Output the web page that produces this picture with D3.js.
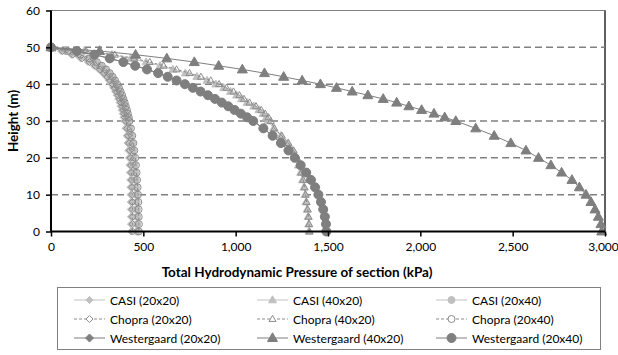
<!DOCTYPE html>
<meta charset="utf-8">
<style>
body { margin: 0; background: #fff; }
text { font-family: Lato, "Liberation Sans", sans-serif; fill: #000; }
.title { font-size: 13.5px; font-weight: bold; }
.leg { font-size: 12px; }
</style>
<svg width="618" height="355"></svg>
<script src="https://d3js.org/d3.v7.min.js"></script>
<script>

// heights (m): 1 m steps near the top, 2 m steps lower down
var heights = [50,49,48,47,46,45,44,43,42,41,40,39,38,37,36,35,34,33,32,31,30,
               28,26,24,22,20,18,16,14,12,10,8,6,4,2,0];

var casi20x20   = [0,55,110,160,200,232,258,280,298,313,326,337,347,356,364,371,377,383,388,393,397,
                   404,410,415,419,422,425,427,429,430,431,432,432,433,433,433];
var casi40x20   = [0,180,330,432,515,590,660,728,790,845,892,935,972,1005,1032,1062,1098,1126,1148,1166,1176,
                   1206,1245,1281,1309,1327,1340,1352,1362,1370,1376,1381,1387,1392,1395,1397];
var casi20x40   = [0,80,148,200,240,268,291,311,327,340,351,361,370,378,385,392,398,404,409,414,418,
                   426,433,439,444,448,452,455,458,460,462,464,465,466,467,467];
var chopra20x20 = [0,62,118,168,208,240,266,288,306,321,334,345,355,364,372,379,385,391,396,401,405,
                   412,418,423,427,431,434,436,438,439,440,441,441,442,442,442];
var chopra40x20 = [0,190,345,450,535,610,680,750,812,865,910,950,988,1020,1045,1075,1110,1138,1160,1178,1190,
                   1210,1250,1286,1314,1332,1345,1356,1366,1373,1379,1384,1390,1395,1398,1400];
var chopra20x40 = [0,90,160,210,248,275,298,318,334,347,358,368,377,385,392,399,405,411,416,421,425,
                   433,440,446,451,456,460,463,466,469,471,473,474,475,476,476];
var west20x20   = [0,140,235,318,392,456,520,580,632,680,725,768,810,850,888,925,960,994,1028,1062,1095,
                   1150,1200,1245,1286,1320,1352,1382,1408,1430,1448,1462,1474,1483,1489,1491];
var west40x20   = [0,263,458,627,776,908,1036,1156,1260,1360,1459,1546,1631,1716,1799,1872,1938,2007,2074,2132,2192,
                   2300,2400,2490,2572,2640,2707,2765,2821,2861,2897,2924,2946,2964,2978,2982];
var west20x40   = [0,140,235,318,392,456,520,580,632,680,725,768,810,850,888,925,960,994,1028,1062,1095,
                   1150,1200,1245,1286,1320,1352,1382,1408,1430,1448,1462,1474,1483,1489,1491];

var xTicks = [0,500,1000,1500,2000,2500,3000];
var yTicks = [0,10,20,30,40,50,60];

var series = [
  {name: "CASI (20x20)",        vals: casi20x20,   shape: "diamond",  fill: "#c0c0c0", stroke: "#c0c0c0", size: 7, dash: null},
  {name: "CASI (40x20)",        vals: casi40x20,   shape: "triangle", fill: "#c0c0c0", stroke: "#c0c0c0", size: 8, dash: null},
  {name: "CASI (20x40)",        vals: casi20x40,   shape: "circle",   fill: "#c0c0c0", stroke: "#c0c0c0", size: 7, dash: null},
  {name: "Chopra (20x20)",      vals: chopra20x20, shape: "diamond",  fill: "none",    stroke: "#8c8c8c", size: 7, dash: "3,2"},
  {name: "Chopra (40x20)",      vals: chopra40x20, shape: "triangle", fill: "none",    stroke: "#8c8c8c", size: 7, dash: "3,2"},
  {name: "Chopra (20x40)",      vals: chopra20x40, shape: "circle",   fill: "none",    stroke: "#8c8c8c", size: 7, dash: "3,2"},
  {name: "Westergaard (20x20)", vals: west20x20,   shape: "diamond",  fill: "#7f7f7f", stroke: "#7f7f7f", size: 8, dash: null},
  {name: "Westergaard (40x20)", vals: west40x20,   shape: "triangle", fill: "#7f7f7f", stroke: "#7f7f7f", size: 10, dash: null},
  {name: "Westergaard (20x40)", vals: west20x40,   shape: "circle",   fill: "#7f7f7f", stroke: "#7f7f7f", size: 9, dash: null}
];

// marker path centred on 0,0 with width w
function marker(shape, w) {
  var r = w / 2;
  if (shape == "diamond") return "M0," + (-r) + "L" + r + ",0L0," + r + "L" + (-r) + ",0Z";
  if (shape == "triangle") {
    var h = w * 0.87;
    return "M0," + (-h * 0.6) + "L" + r + "," + (h * 0.4) + "L" + (-r) + "," + (h * 0.4) + "Z";
  }
  return "M" + (-r) + ",0A" + r + "," + r + " 0 1,0 " + r + ",0A" + r + "," + r + " 0 1,0 " + (-r) + ",0Z";
}

var svg = d3.select("svg");
var pLeft = 51, pRight = 605, pTop = 10.5, pBottom = 231.5;

var x = d3.scaleLinear().domain([0, 3000]).range([pLeft, pRight]);
var y = d3.scaleLinear().domain([0, 60]).range([pBottom, pTop]);

// plot border
svg.append("rect")
  .attr("x", pLeft).attr("y", pTop)
  .attr("width", pRight - pLeft).attr("height", pBottom - pTop)
  .attr("fill", "none").attr("stroke", "#7f7f7f").attr("stroke-width", 1);
svg.append("line").attr("x1", pRight).attr("x2", pRight).attr("y1", pTop).attr("y2", pBottom)
  .attr("stroke", "#404040").attr("stroke-width", 1.5);

// dashed gridlines
svg.append("g").selectAll("line")
  .data(yTicks.filter(function(d) { return d > 0 && d < 60; }))
  .enter().append("line")
  .attr("x1", pLeft).attr("x2", pRight)
  .attr("y1", function(d) { return y(d); }).attr("y2", function(d) { return y(d); })
  .attr("stroke", "#808080").attr("stroke-width", 1.5).attr("stroke-dasharray", "7,4");

// series
var line = d3.line()
  .x(function(d) { return x(d[0]); })
  .y(function(d) { return y(d[1]); });

series.forEach(function(s) {
  var pts = s.vals.map(function(v, i) { return [v, heights[i]]; });
  var g = svg.append("g");
  g.append("path").datum(pts)
    .attr("d", line).attr("fill", "none")
    .attr("stroke", s.stroke).attr("stroke-width", 1)
    .attr("stroke-dasharray", s.dash);
  g.selectAll("path.m").data(pts).enter().append("path")
    .attr("class", "m")
    .attr("transform", function(d) { return "translate(" + x(d[0]) + "," + y(d[1]) + ")"; })
    .attr("d", marker(s.shape, s.size))
    .attr("fill", s.fill).attr("stroke", s.stroke).attr("stroke-width", 1);
});

// axes
var xAxis = svg.append("g")
  .attr("transform", "translate(0," + pBottom + ")")
  .call(d3.axisBottom(x).tickValues(xTicks).tickSize(5).tickPadding(6).tickFormat(d3.format(",")));
var yAxis = svg.append("g")
  .attr("transform", "translate(" + pLeft + ",0)")
  .call(d3.axisLeft(y).tickValues(yTicks).tickSize(5).tickPadding(6));
[xAxis, yAxis].forEach(function(a) {
  a.select(".domain").attr("stroke", "#000").attr("stroke-width", 2);
  a.selectAll(".tick line").attr("stroke", "#000").attr("stroke-width", 1.5);
  a.selectAll(".tick text").style("font-family", "Lato, sans-serif").style("font-size", "12px");
});
yAxis.select(".domain").attr("d", "M0," + pBottom + "V" + pTop);
xAxis.select(".domain").attr("d", "M" + pLeft + ",0H" + pRight);
// keep the last label inside the picture
xAxis.selectAll(".tick text").filter(function(d) { return d == 3000; }).attr("dx", -2);

// axis titles
svg.append("text").attr("class", "title")
  .attr("x", 297).attr("y", 277).attr("text-anchor", "middle")
  .text("Total Hydrodynamic Pressure of section  (kPa)");
svg.append("text").attr("class", "title")
  .attr("transform", "translate(18,121) rotate(-90)").attr("text-anchor", "middle")
  .text("Height (m)");

// legend
svg.append("rect")
  .attr("x", 57.5).attr("y", 287.5).attr("width", 543).attr("height", 62)
  .attr("fill", "#fff").attr("stroke", "#808080").attr("stroke-width", 1);

var colX = [74, 257, 436];
var rowY = [300, 319, 338];
series.forEach(function(s, i) {
  var cx = colX[i % 3], cy = rowY[Math.floor(i / 3)];
  var g = svg.append("g").attr("transform", "translate(" + cx + "," + cy + ")");
  g.append("line").attr("x1", 0).attr("x2", 31).attr("y1", 0).attr("y2", 0)
    .attr("stroke", s.stroke).attr("stroke-width", 1).attr("stroke-dasharray", s.dash);
  g.append("path").attr("transform", "translate(15.5,0)")
    .attr("d", marker(s.shape, s.size))
    .attr("fill", s.fill == "none" ? "#fff" : s.fill).attr("stroke", s.stroke);
  g.append("text").attr("class", "leg").attr("x", 36).attr("y", 4.5).text(s.name);
});

</script>
